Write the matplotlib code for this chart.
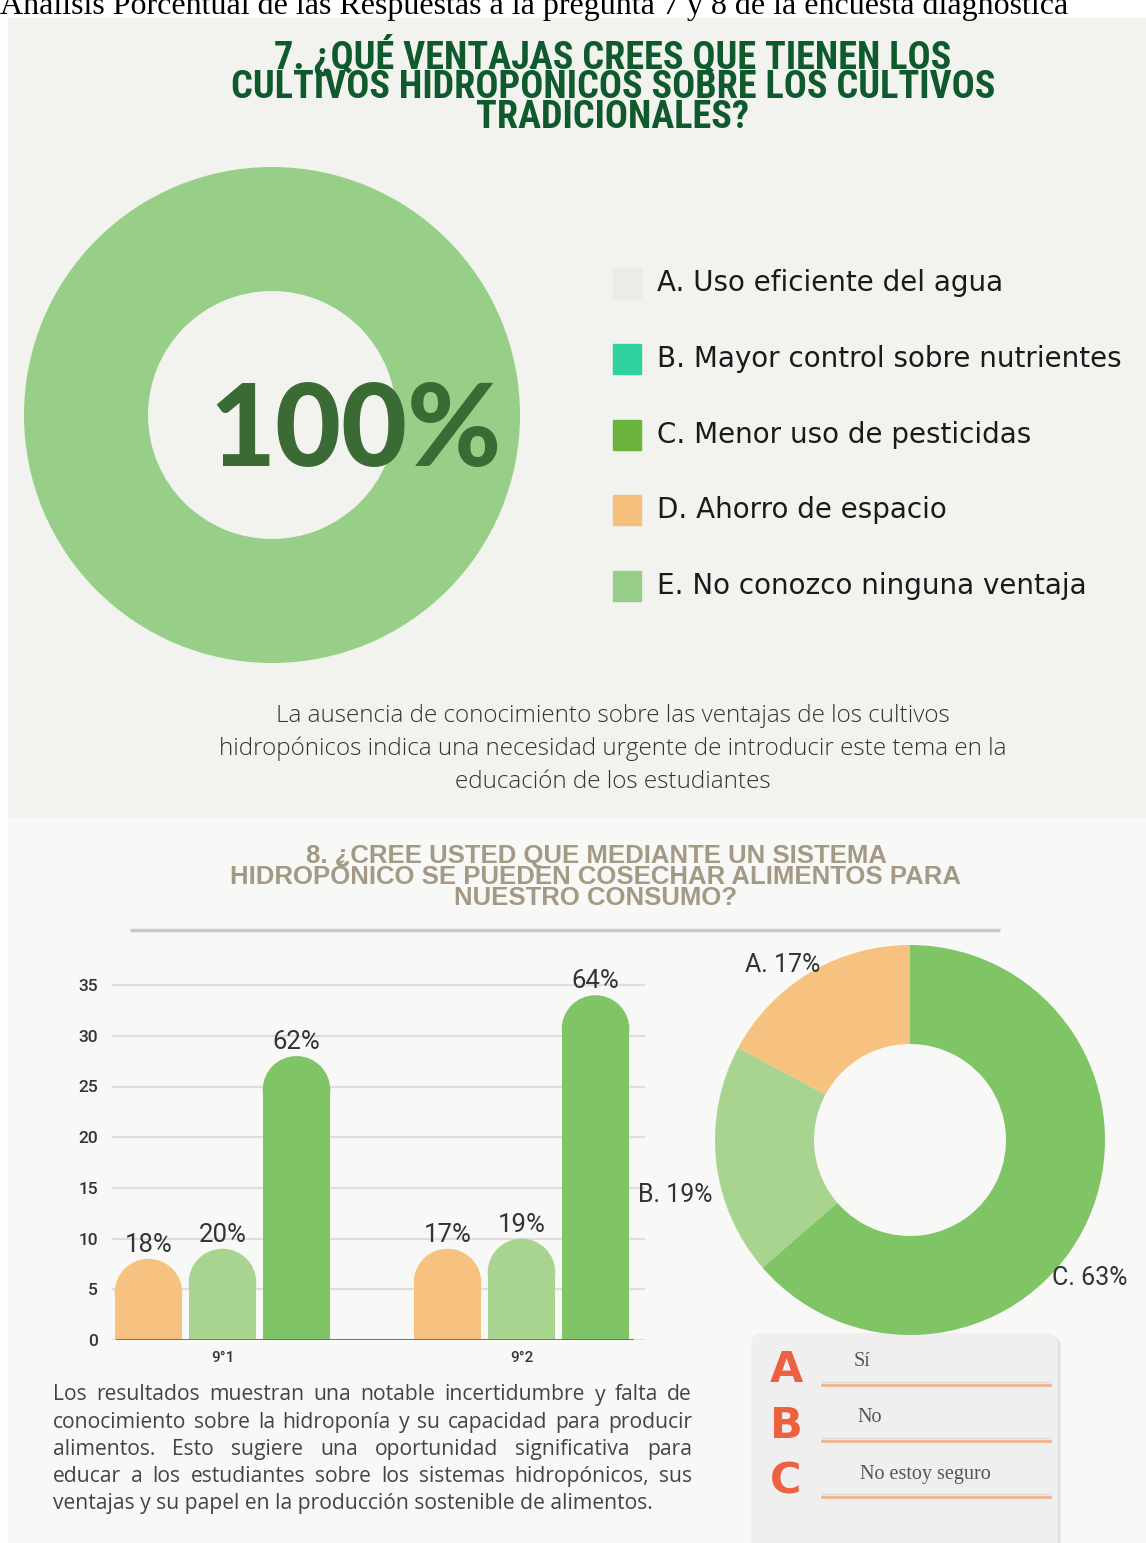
import matplotlib
matplotlib.use("Agg")
import matplotlib.pyplot as plt
from matplotlib.patches import Rectangle, Ellipse, FancyBboxPatch

# ---------------- data ----------------
q7_title = ["7. ¿QUÉ VENTAJAS CREES QUE TIENEN LOS",
            "CULTIVOS HIDROPÓNICOS SOBRE LOS CULTIVOS",
            "TRADICIONALES?"]
q7_labels = ["A. Uso eficiente del agua", "B. Mayor control sobre nutrientes",
             "C. Menor uso de pesticidas", "D. Ahorro de espacio",
             "E. No conozco ninguna ventaja"]
q7_values = [0, 0, 0, 0, 100]
q7_colors = ["#ebebe7", "#2fd3a0", "#6ab43c", "#f5c07c", "#97cf88"]
q7_note = ["La ausencia de conocimiento sobre las ventajas de los cultivos",
           "hidropónicos indica una necesidad urgente de introducir este tema en la",
           "educación de los estudiantes"]

q8_title = ["8. ¿CREE USTED QUE MEDIANTE UN SISTEMA",
            "HIDROPÓNICO SE PUEDEN COSECHAR ALIMENTOS PARA",
            "NUESTRO CONSUMO?"]
groups = ["9°1", "9°2"]
bar_A = [8, 9]      # Sí
bar_B = [9, 10]     # No
bar_C = [28, 34]    # No estoy seguro
pct_A = ["18%", "17%"]
pct_B = ["20%", "19%"]
pct_C = ["62%", "64%"]
yticks = [0, 5, 10, 15, 20, 25, 30, 35]
donut_labels = ["A. 17%", "B. 19%", "C. 63%"]
donut_values = [17, 19, 63]
colA, colB, colC = "#f7c27f", "#a8d490", "#7fc465"
opt_letters = ["A", "B", "C"]
opt_texts = ["Sí", "No", "No estoy seguro"]
q8_note = ["Los resultados muestran una notable incertidumbre y falta de",
           "conocimiento sobre la hidroponía y su capacidad para producir",
           "alimentos. Esto sugiere una oportunidad significativa para",
           "educar a los estudiantes sobre los sistemas hidropónicos, sus",
           "ventajas y su papel en la producción sostenible de alimentos."]
page_head = "Análisis Porcentual de las Respuestas a la pregunta 7 y 8 de la encuesta diagnóstica"

W, H = 1146, 1543
fig = plt.figure(figsize=(W / 100, H / 100), dpi=100)
fig.patch.set_facecolor("white")

def fr(x0, y0, w, h):
    """pixel box (top-left origin) -> figure fraction rect"""
    return [x0 / W, 1 - (y0 + h) / H, w / W, h / H]

# background axes in pixel coordinates
bg = fig.add_axes([0, 0, 1, 1], zorder=0)
bg.set_xlim(0, W)
bg.set_ylim(H, 0)
bg.axis("off")
# foreground overlay axes for texts lying over charts
fg = fig.add_axes([0, 0, 1, 1], zorder=10)
fg.set_xlim(0, W)
fg.set_ylim(H, 0)
fg.axis("off")
fg.patch.set_alpha(0)

bg.add_patch(Rectangle((8, 18), W - 8, 800, color="#f2f2ef", zorder=0))
bg.add_patch(Rectangle((8, 818), W - 8, H - 818, color="#f8f8f7", zorder=0))

bg.text(0, 14, page_head, fontsize=23, family="Liberation Serif", color="black",
        ha="left", va="baseline")

narrow = ["Roboto Condensed", "Liberation Sans Narrow", "DejaVu Sans"]
bg.text(613, 128, "\n".join(q7_title), fontsize=27.5, family=narrow, weight="bold",
        color="#0f5a2d", ha="center", va="baseline", ma="center", linespacing=0.75)

# legend of q7
for i, (lab, c) in enumerate(zip(q7_labels, q7_colors)):
    y = 283 + i * 75.8
    bg.add_patch(Rectangle((613, y - 15), 28, 30, color=c, zorder=2))
    bg.text(657, y, lab, fontsize=20, family="DejaVu Sans", color="#1a1a1a",
            ha="left", va="center")

for i, line in enumerate(q7_note):
    bg.text(613, 716 + i * 33, line, fontsize=17.5, family="Open Sans",
            weight="light", color="#333333", ha="center", va="center")

bg.text(596, 905, "\n".join(q8_title), fontsize=18.5, family="Liberation Sans",
        weight="bold", color="#a39984", ha="center", va="baseline", ma="center",
        linespacing=0.84)
bg.plot([130, 1000], [930, 930], color="#c9c9c9", lw=2.5, solid_capstyle="butt")

# ---------------- big donut q7 ----------------
cx, cy, r = 272, 415, 248
axd = fig.add_axes(fr(cx - 250, cy - 250, 500, 500), zorder=1)
axd.pie(q7_values, colors=q7_colors, radius=r / 250, startangle=90, counterclock=False,
        wedgeprops=dict(width=(r - 124) / 250, linewidth=0))
axd.set_xlim(-1, 1)
axd.set_ylim(-1, 1)
axd.set_aspect("equal")
axd.axis("off")
fg.text(355, 433, f"{q7_values[-1]}%", fontsize=82, family="Lato", weight="black",
        color="#3b6b35", ha="center", va="center")

# ---------------- bar chart q8 ----------------
px0, px1 = 112, 645
py_bottom, ppu = 1340, 10.14
ymax = 36
axb = fig.add_axes(fr(px0, py_bottom - ymax * ppu, px1 - px0, ymax * ppu), zorder=1)
axb.set_facecolor("none")
axb.set_xlim((px0 - 222.5) / 299, (px1 - 222.5) / 299)
axb.set_ylim(0, ymax)
bw, off = 0.226, 0.2475
ell_h = bw * 299 / ppu
series = [(bar_A, pct_A, colA, -off), (bar_B, pct_B, colB, 0), (bar_C, pct_C, colC, off)]
for vals, pcts, c, o in series:
    for g, (v, p) in enumerate(zip(vals, pcts)):
        x = g + o
        axb.bar(x, v - ell_h / 2, width=bw, color=c, zorder=3, linewidth=0)
        axb.add_patch(Ellipse((x, v - ell_h / 2), bw, ell_h, color=c, zorder=3, lw=0))
        axb.text(x, v + 0.2, p, fontsize=18.5, color="#333333", ha="center",
                 va="bottom", family="Roboto", zorder=4)
axb.set_yticks(yticks)
axb.set_yticklabels([str(t) for t in yticks], fontsize=12.5, color="#333333",
                    family="Roboto", weight="medium")
axb.set_xticks([0, 1])
axb.set_xticklabels(groups, fontsize=11, color="#333333", family="Roboto",
                    weight="medium")
axb.tick_params(length=0, pad=10)
axb.tick_params(axis="x", pad=8)
axb.grid(axis="y", color="#dedede", lw=1.5, zorder=0)
for s in axb.spines.values():
    s.set_visible(False)
axb.axhline(0, xmin=(117 - px0) / (px1 - px0), xmax=(632 - px0) / (px1 - px0),
            color="#6a6a6a", lw=2, zorder=4)

# ---------------- donut q8 ----------------
dcx, dcy, dr = 910, 1140, 195
axp = fig.add_axes(fr(dcx - 200, dcy - 200, 400, 400), zorder=1)
axp.pie(donut_values, colors=[colA, colB, colC], radius=dr / 200, startangle=90,
        counterclock=True, wedgeprops=dict(width=(dr - 96) / 200, linewidth=0))
axp.set_xlim(-1, 1)
axp.set_ylim(-1, 1)
axp.set_aspect("equal")
axp.axis("off")
for lab, (x, y) in zip(donut_labels, [(783, 965), (675, 1195), (1090, 1278)]):
    fg.text(x, y, lab, fontsize=18, color="#333333", family="Roboto",
            ha="center", va="center")

# ---------------- options box ----------------
bg.add_patch(FancyBboxPatch((755, 1337), 305, 215, boxstyle="round,pad=0,rounding_size=10",
                            color="#e2e2e2", zorder=1))
bg.add_patch(FancyBboxPatch((752, 1334), 305, 215, boxstyle="round,pad=0,rounding_size=10",
                            color="#efefef", zorder=1))
for i, (L, t) in enumerate(zip(opt_letters, opt_texts)):
    y = 1370 + i * 56
    bg.text(786, y, L, fontsize=31, weight="bold", family="DejaVu Sans",
            color="#ec6140", ha="center", va="center", zorder=3)
    tx = [862, 870, 925][i]
    bg.text(tx, y - 8, t, fontsize=14.5, family="Liberation Serif", color="#555555",
            ha="center", va="center", zorder=3)
    bg.plot([822, 1050], [y + 15, y + 15], color="#f2b48c", lw=2, zorder=3)
    bg.plot([822, 1050], [y + 12, y + 12], color="#d8d8d8", lw=1, zorder=3)

# ---------------- justified paragraph ----------------
fig.canvas.draw()
renderer = fig.canvas.get_renderer()
left_px, right_px = 53, 692
fs_par = 15.2
for i, line in enumerate(q8_note):
    y = 1395 + i * 27.2
    words = line.split(" ")
    if i == len(q8_note) - 1:
        bg.text(left_px, y, line, fontsize=fs_par, family="Open Sans", color="#444444",
                ha="left", va="center")
        continue
    objs = [bg.text(0, y, w, fontsize=fs_par, family="Open Sans", color="#444444",
                    ha="left", va="center") for w in words]
    widths = [o.get_window_extent(renderer).width for o in objs]
    gap = (right_px - left_px - sum(widths)) / (len(words) - 1)
    x = left_px
    for o, wdt in zip(objs, widths):
        o.set_x(x)
        x += wdt + gap

fig.savefig("out.png", dpi=100, facecolor="white")
